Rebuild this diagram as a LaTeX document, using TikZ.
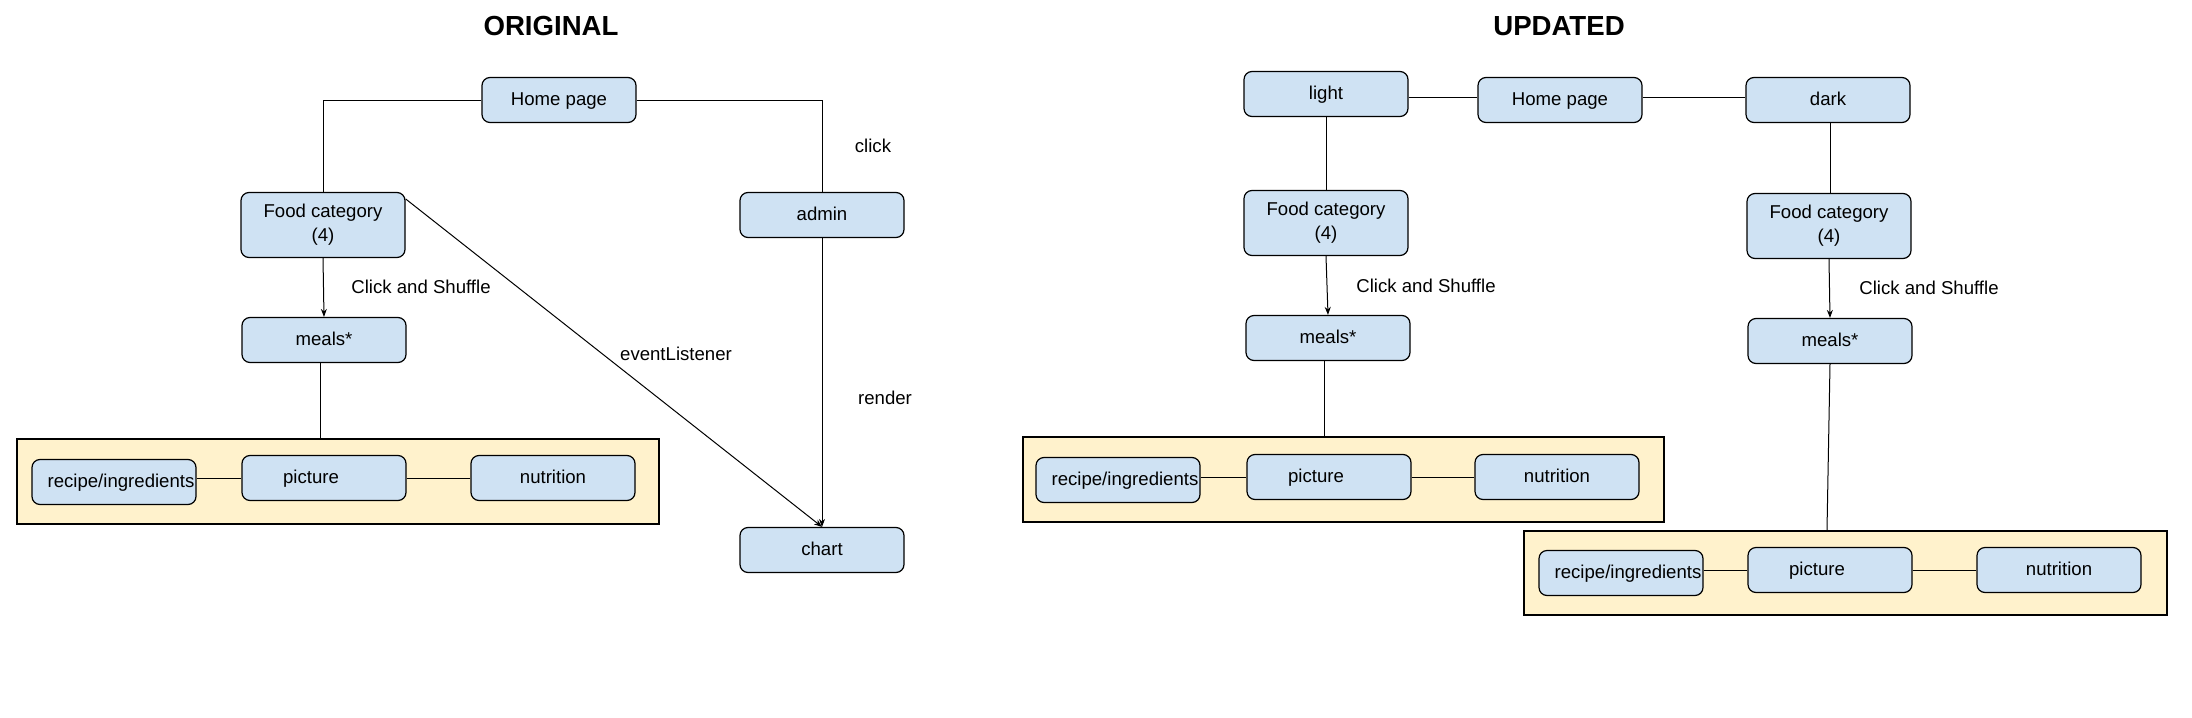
\documentclass[tikz,border=0pt]{standalone}
\usepackage{fontspec}
\setmainfont{Liberation Sans}
\usetikzlibrary{arrows.meta}
\definecolor{boxblue}{HTML}{CFE2F3}
\definecolor{contyellow}{HTML}{FFF2CC}
\tikzset{
  boxbase/.style={draw=black, line width=0.6pt, rounded corners=4pt, fill=boxblue,
    minimum width=82pt, minimum height=22.5pt, inner sep=0pt, align=center,
    font=\fontsize{9.3}{12}\selectfont},
  box/.style={boxbase, text height=0.72em, text depth=0.2em},
  tallbox/.style={boxbase, minimum height=32.5pt},
  container/.style={draw=black, line width=0.8pt, fill=contyellow, inner sep=0pt},
  conn/.style={draw=black, line width=0.5pt},
  arr/.style={conn, -{Stealth[length=4pt,width=3pt]}},
  lbl/.style={font=\fontsize{9.3}{11}\selectfont, inner sep=0pt},
  ttl/.style={font=\fontsize{13.8}{16}\selectfont\bfseries, inner sep=0pt}
}
\newcommand{\recipetxt}{\hspace*{7pt}recipe/ingredients}
\newcommand{\picturetxt}{picture\hspace*{13pt}}
\newcommand{\foodtxt}{\strut Food category\\\strut(4)}
\begin{document}
\begin{tikzpicture}[x=0.5pt,y=-0.5pt]
\useasboundingbox (0,0) rectangle (2192,718);
\fill[white] (0,0) rectangle (2192,718);

% ---------- ORIGINAL ----------
\node[ttl] (t1) at (551,26) {ORIGINAL};
\node[container, minimum width=321pt, minimum height=42.5pt] (cont1) at (338,481.5) {};
\node[box, minimum width=77pt] (home1) at (559,100) {Home page};
\node[tallbox] (food1) at (323,225) {\foodtxt};
\node[box] (admin) at (822,215) {admin};
\node[box] (meals1) at (324,340) {meals*};
\node[box] (chart) at (822,550) {chart};
\node[box] (rec1) at (114,482) {\recipetxt};
\node[box] (pic1) at (324,478) {\picturetxt};
\node[box] (nut1) at (553,478) {nutrition};

\draw[conn] (home1.west) -| (food1.north);
\draw[conn] (home1.east) -| (admin.north);
\draw[arr] (food1.south) -- (meals1.north);
\draw[arr] ([yshift=-3.5pt]food1.north east) -- (chart.north);
\draw[arr] (admin.south) -- (chart.north);
\draw[conn] ([xshift=-2pt]meals1.south) -- ([xshift=-2pt]meals1.south |- cont1.north);
\draw[conn] (rec1.east |- pic1.west) -- (pic1.west);
\draw[conn] (pic1.east) -- (nut1.west);

\node[lbl] (l1) at (873,146) {click};
\node[lbl] (l2) at (421,287) {Click and Shuffle};
\node[lbl] (l3) at (676,354) {eventListener};
\node[lbl] (l4) at (885,398) {render};

% ---------- UPDATED ----------
\node[ttl] (t2) at (1559,26) {UPDATED};
\node[container, minimum width=320.5pt, minimum height=42.5pt] (cont2) at (1343.5,479.5) {};
\node[container, minimum width=321.5pt, minimum height=42pt] (cont3) at (1845.5,573) {};
\node[box] (light) at (1326,94) {light};
\node[box] (home2) at (1560,100) {Home page};
\node[box] (dark) at (1828,100) {dark};
\node[tallbox] (food2) at (1326,223) {\foodtxt};
\node[tallbox] (food3) at (1829,226) {\foodtxt};
\node[box] (meals2) at (1328,338) {meals*};
\node[box] (meals3) at (1830,341) {meals*};
\node[box] (rec2) at (1118,480) {\recipetxt};
\node[box] (pic2) at (1329,477) {\picturetxt};
\node[box] (nut2) at (1557,477) {nutrition};
\node[box] (rec3) at (1621,573) {\recipetxt};
\node[box] (pic3) at (1830,570) {\picturetxt};
\node[box] (nut3) at (2059,570) {nutrition};

\draw[conn] ([yshift=1.5pt]home2.west -| light.east) -- ([yshift=1.5pt]home2.west);
\draw[conn] ([yshift=1.5pt]home2.east) -- ([yshift=1.5pt]home2.east -| dark.west);
\draw[conn] (light.south) -- (food2.north);
\draw[conn] ([xshift=1pt]dark.south) -- ([xshift=1pt]dark.south |- food3.north);
\draw[arr] (food2.south) -- (meals2.north);
\draw[arr] (food3.south) -- (meals3.north);
\draw[conn] ([xshift=-2pt]meals2.south) -- ([xshift=-2pt]meals2.south |- cont2.north);
\draw[conn] (meals3.south) -- ([xshift=-9.25pt]cont3.north);
\draw[conn] (rec2.east |- pic2.west) -- (pic2.west);
\draw[conn] (pic2.east) -- (nut2.west);
\draw[conn] (rec3.east |- pic3.west) -- (pic3.west);
\draw[conn] (pic3.east) -- (nut3.west);

\node[lbl] (l5) at (1426,286) {Click and Shuffle};
\node[lbl] (l6) at (1929,288) {Click and Shuffle};
\end{tikzpicture}
\end{document}
